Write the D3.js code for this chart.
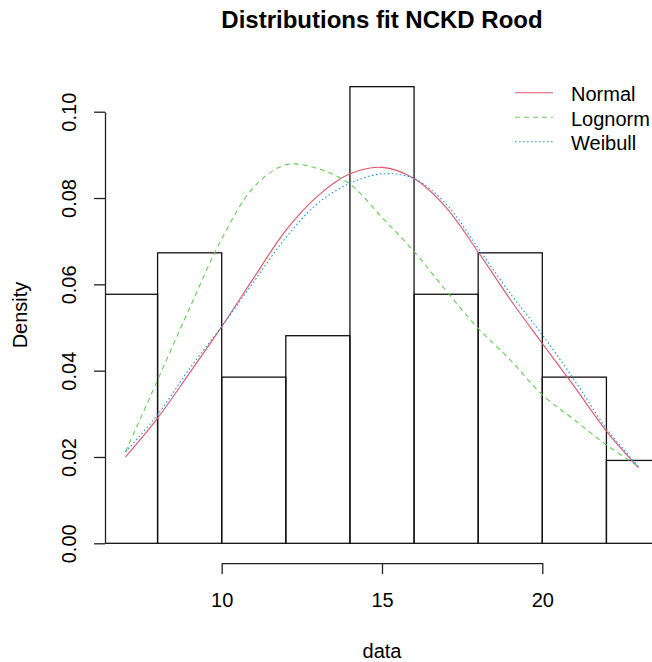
<!DOCTYPE html>
<html>
<head>
<meta charset="utf-8">
<script src="https://cdn.jsdelivr.net/npm/d3@7"></script>
<style>
  body { margin: 0; background: #fff; }
  svg { display: block; font-family: "Liberation Sans", Arial, sans-serif; }
</style>
</head>
<body>
<div class="chart"></div>
<script>
let w = 652;
let h = 662;

// histogram of the data (density scale)
const breaks = [6, 8, 10, 12, 14, 16, 18, 20, 22, 24];
const density = [0.0577, 0.0673, 0.0385, 0.0481, 0.1058, 0.0577, 0.0673, 0.0385, 0.0192];

const curveX = [7, 8, 9, 10, 11, 12, 13, 14, 15, 16, 17, 18, 19, 20, 21, 22, 23];
const normalY = [0.0200, 0.0290, 0.0395, 0.0502, 0.0615, 0.0725, 0.0805, 0.0856, 0.0871, 0.0845, 0.0778, 0.0675, 0.0565, 0.0463, 0.0363, 0.0260, 0.0175];
const lognormY = [0.0212, 0.0378, 0.0545, 0.0705, 0.0825, 0.0877, 0.0868, 0.0832, 0.0755, 0.0676, 0.0585, 0.0498, 0.0425, 0.0344, 0.0286, 0.0228, 0.0178];
const weibullY = [0.0212, 0.0298, 0.0405, 0.0502, 0.0606, 0.0708, 0.0788, 0.0834, 0.0856, 0.0845, 0.0786, 0.0684, 0.0579, 0.0483, 0.0378, 0.0266, 0.0178];

const seriesNames = ["Normal", "Lognorm", "Weibull"];
const yTicks = [0, 0.02, 0.04, 0.06, 0.08, 0.10];
const xTicks = [10, 15, 20];

const colors = ["#DF536B", "#61D04F", "#2297E6"];
const dashes = [null, "5,4", "1.6,2.4"];

const svg = d3.select(".chart")
  .append("svg")
  .attr("width", w)
  .attr("height", h);

const xScale = d3.scaleLinear()
  .domain([6.36, 23.64])
  .range([105, 659]);

const yScale = d3.scaleLinear()
  .domain([0, 0.1])
  .range([543.3, 111.7]);

// plot region (R extends by 4%)
const plotTop = yScale(0.1058 * 1.04);
const plotBottom = yScale(-0.1058 * 0.04);

svg.append("clipPath")
  .attr("id", "plotclip")
  .append("rect")
  .attr("x", xScale.range()[0])
  .attr("y", plotTop)
  .attr("width", xScale.range()[1] - xScale.range()[0])
  .attr("height", plotBottom - plotTop);

const bins = density.map((d, i) => ({ x0: breaks[i], x1: breaks[i + 1], d: d }));

svg.append("g")
  .attr("clip-path", "url(#plotclip)")
  .selectAll("rect")
  .data(bins)
  .enter()
  .append("rect")
  .attr("x", d => xScale(d.x0))
  .attr("width", d => xScale(d.x1) - xScale(d.x0))
  .attr("y", d => yScale(d.d))
  .attr("height", d => yScale(0) - yScale(d.d))
  .attr("fill", "none")
  .attr("stroke", "#111")
  .attr("stroke-width", 1.3);

const series = [normalY, lognormY, weibullY];
const line = d3.line()
  .x(d => xScale(d[0]))
  .y(d => yScale(d[1]))
  .curve(d3.curveCatmullRom.alpha(0.5));

series.forEach((ys, k) => {
  svg.append("path")
    .datum(curveX.map((x, i) => [x, ys[i]]))
    .attr("d", line)
    .attr("fill", "none")
    .attr("stroke", colors[k])
    .attr("stroke-width", 1.1)
    .attr("stroke-dasharray", dashes[k]);
});

// axes
const yAxis = d3.axisLeft(yScale)
  .tickValues(yTicks)
  .tickFormat(d3.format(".2f"))
  .tickSize(11)
  .tickSizeOuter(0);

const gy = svg.append("g")
  .attr("transform", "translate(" + xScale.range()[0] + ",0)")
  .call(yAxis);
gy.selectAll("text")
  .attr("x", null).attr("dy", null)
  .attr("transform", "translate(-29.5,0) rotate(-90)")
  .attr("text-anchor", "middle");

const xAxisScale = xScale.copy()
  .domain([xTicks[0], xTicks[xTicks.length - 1]])
  .range([xScale(xTicks[0]), xScale(xTicks[xTicks.length - 1])]);

const gx = svg.append("g")
  .attr("transform", "translate(0," + (plotBottom + 1.5) + ")")
  .call(d3.axisBottom(xAxisScale).tickValues(xTicks).tickSize(11).tickSizeOuter(0));
gx.selectAll("text")
  .attr("y", 44).attr("dy", null);

svg.selectAll(".domain, .tick line")
  .attr("stroke", "#222")
  .attr("stroke-width", 1.3);
svg.selectAll(".tick text")
  .attr("fill", "#000")
  .style("font-size", "20px")
  .style("font-family", "'Liberation Sans', Arial, sans-serif");

// titles
const midX = (xScale.range()[0] + xScale.range()[1]) / 2;
svg.append("text")
  .attr("x", midX).attr("y", 28)
  .attr("text-anchor", "middle")
  .style("font-size", "24px")
  .style("font-weight", "bold")
  .text("Distributions fit NCKD Rood");

svg.append("text")
  .attr("x", midX).attr("y", 657.5)
  .attr("text-anchor", "middle")
  .style("font-size", "20px")
  .text("data");

svg.append("text")
  .attr("transform", "translate(27," + ((plotTop + plotBottom) / 2) + ") rotate(-90)")
  .attr("text-anchor", "middle")
  .style("font-size", "20px")
  .text("Density");

// legend
const legend = svg.append("g");
seriesNames.forEach((name, k) => {
  const ly = 92.7 + k * 24.5;
  legend.append("line")
    .attr("x1", 515).attr("x2", 553)
    .attr("y1", ly).attr("y2", ly)
    .attr("stroke", colors[k])
    .attr("stroke-width", 1.1)
    .attr("stroke-dasharray", dashes[k]);
  legend.append("text")
    .attr("x", 571).attr("y", ly + 8.5)
    .style("font-size", "20px")
    .text(name);
});
</script>
</body>
</html>
